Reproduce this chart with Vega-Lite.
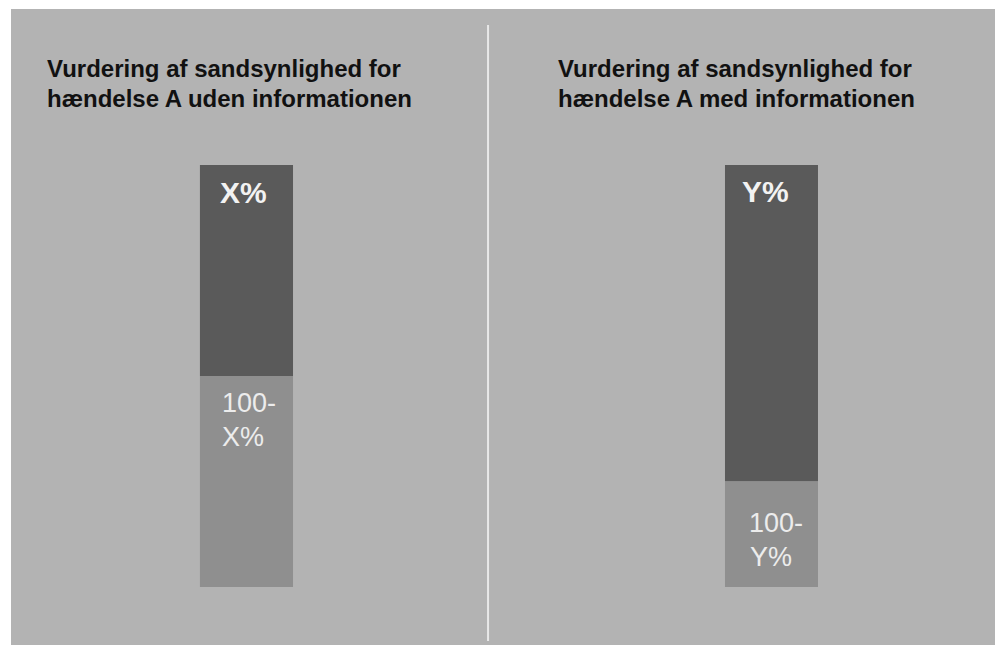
{
  "$schema": "https://vega.github.io/schema/vega-lite/v6.json",
  "width": 999,
  "height": 645,
  "autosize": {"type": "fit", "contains": "padding"},
  "padding": {"left": 11, "top": 9, "right": 4, "bottom": 0},
  "background": "white",
  "config": {"view": {"fill": "#b3b3b3", "stroke": null}},
  "datasets": {
    "bars": [
      {"panel": "uden", "segment": "dark", "x0": 19.2, "x1": 28.66, "lo": 50, "hi": 100},
      {"panel": "uden", "segment": "light", "x0": 19.2, "x1": 28.66, "lo": 0, "hi": 50},
      {"panel": "med", "segment": "dark", "x0": 72.56, "x1": 82.01, "lo": 25, "hi": 100},
      {"panel": "med", "segment": "light", "x0": 72.56, "x1": 82.01, "lo": 0, "hi": 25}
    ],
    "divider": [{"x": 48.48, "lo": -12.8, "hi": 133.2}],
    "titles": [
      {"x": 3.66, "y": 120.85, "label": "Vurdering af sandsynlighed for"},
      {"x": 3.66, "y": 113.74, "label": "hændelse A uden informationen"},
      {"x": 55.59, "y": 120.85, "label": "Vurdering af sandsynlighed for"},
      {"x": 55.59, "y": 113.74, "label": "hændelse A med informationen"}
    ],
    "boldLabels": [
      {"x": 21.24, "y": 93.1, "label": "X%"},
      {"x": 74.29, "y": 93.3, "label": "Y%"}
    ],
    "plainLabels": [
      {"x": 21.44, "y": 43.4, "label": "100-"},
      {"x": 21.44, "y": 35.3, "label": "X%"},
      {"x": 75.0, "y": 14.9, "label": "100-"},
      {"x": 75.1, "y": 6.9, "label": "Y%"}
    ]
  },
  "layer": [
    {
      "data": {"name": "bars"},
      "mark": {"type": "rect"},
      "encoding": {
        "x": {"field": "x0", "type": "quantitative", "scale": {"domain": [0, 100], "nice": false, "zero": false}, "axis": null},
        "x2": {"field": "x1"},
        "y": {"field": "lo", "type": "quantitative", "scale": {"domain": [-13.74, 136.97], "nice": false, "zero": false}, "axis": null},
        "y2": {"field": "hi"},
        "color": {"field": "segment", "type": "nominal", "scale": {"domain": ["dark", "light"], "range": ["#5a5a5a", "#8f8f8f"]}, "legend": null}
      }
    },
    {
      "data": {"name": "divider"},
      "mark": {"type": "rule", "color": "#e8e8e8", "strokeWidth": 2},
      "encoding": {
        "x": {"field": "x", "type": "quantitative", "scale": {"domain": [0, 100], "nice": false, "zero": false}, "axis": null},
        "y": {"field": "lo", "type": "quantitative", "scale": {"domain": [-13.74, 136.97], "nice": false, "zero": false}, "axis": null},
        "y2": {"field": "hi"}
      }
    },
    {
      "data": {"name": "titles"},
      "mark": {"type": "text", "align": "left", "baseline": "alphabetic", "font": "Liberation Sans", "fontWeight": "bold", "fontSize": 24, "color": "#111111"},
      "encoding": {
        "x": {"field": "x", "type": "quantitative", "scale": {"domain": [0, 100], "nice": false, "zero": false}, "axis": null},
        "y": {"field": "y", "type": "quantitative", "scale": {"domain": [-13.74, 136.97], "nice": false, "zero": false}, "axis": null},
        "text": {"field": "label"}
      }
    },
    {
      "data": {"name": "boldLabels"},
      "mark": {"type": "text", "align": "left", "baseline": "middle", "font": "Liberation Sans", "fontWeight": "bold", "fontSize": 30, "color": "#f2f2f2"},
      "encoding": {
        "x": {"field": "x", "type": "quantitative", "scale": {"domain": [0, 100], "nice": false, "zero": false}, "axis": null},
        "y": {"field": "y", "type": "quantitative", "scale": {"domain": [-13.74, 136.97], "nice": false, "zero": false}, "axis": null},
        "text": {"field": "label"}
      }
    },
    {
      "data": {"name": "plainLabels"},
      "mark": {"type": "text", "align": "left", "baseline": "middle", "font": "Liberation Sans", "fontSize": 27, "color": "#ececec"},
      "encoding": {
        "x": {"field": "x", "type": "quantitative", "scale": {"domain": [0, 100], "nice": false, "zero": false}, "axis": null},
        "y": {"field": "y", "type": "quantitative", "scale": {"domain": [-13.74, 136.97], "nice": false, "zero": false}, "axis": null},
        "text": {"field": "label"}
      }
    }
  ]
}
